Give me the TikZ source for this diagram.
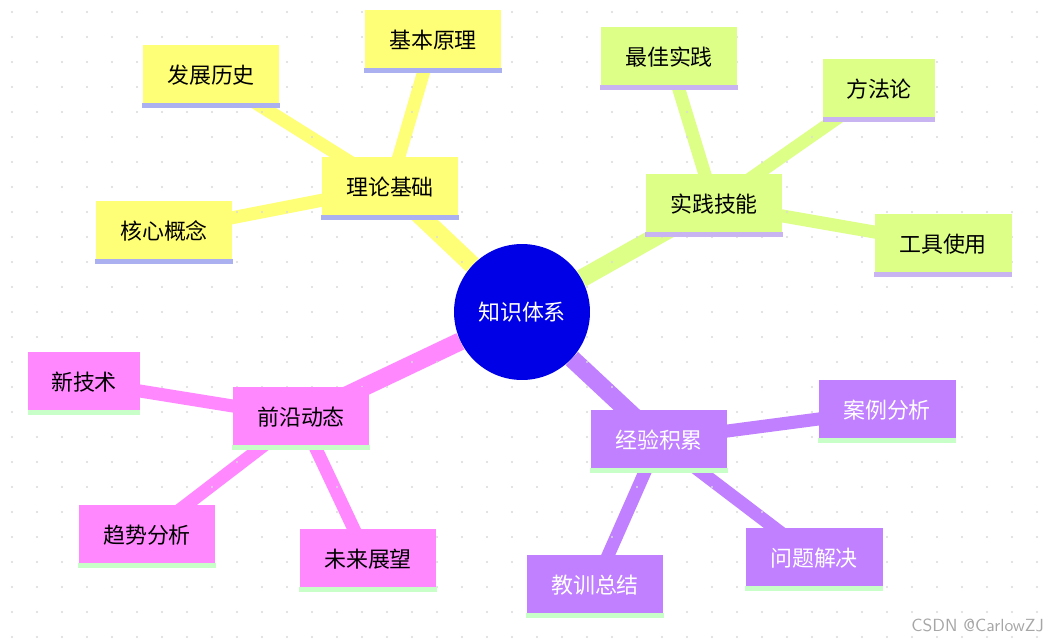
\documentclass[tikz,border=0pt]{standalone}
\usepackage{fontspec}
\newfontfamily\cjk{Noto Sans CJK SC}
\usetikzlibrary{backgrounds}
\definecolor{rootblue}{RGB}{0,0,230}
\definecolor{theoy}{RGB}{255,255,119}
\definecolor{pracg}{RGB}{221,255,136}
\definecolor{frontp}{RGB}{255,136,255}
\definecolor{expv}{RGB}{192,128,255}
\definecolor{lineblue}{RGB}{170,176,240}
\definecolor{linepurp}{RGB}{200,180,240}
\definecolor{linegreen}{RGB}{200,255,200}
\tikzset{
  box/.style={fill=#1, minimum width=2.74cm, minimum height=1.2cm, inner sep=2pt, font=\cjk\fontsize{12.5}{14}\selectfont},
  under/.style={append after command={\pgfextra{\let\thisbox\tikzlastnode}
      (\thisbox.south west) edge[line width=2.5pt,#1] (\thisbox.south east)}},
  trunk/.style={line width=0.36cm, #1},
  twig/.style={line width=0.26cm, #1},
}
\begin{document}
\begin{tikzpicture}[x=0.02cm,y=-0.02cm]
  \useasboundingbox (0,0) rectangle (1054,642);
  % dotted paper
  \foreach \gx in {12,37,...,1054}
    \foreach \gy in {12,37,...,642}
      \fill[black!15] (\gx,\gy) circle (0.6pt);

  \node[circle, fill=rootblue, minimum size=2.72cm, text=white, font=\cjk\fontsize{12.5}{14}\selectfont] (root) at (522,312) {知识体系};

  % theory
  \node[box=theoy, under=lineblue] (theory) at (390,187) {理论基础};
  \node[box=theoy, under=lineblue] (basic) at (433,40) {基本原理};
  \node[box=theoy, under=lineblue] (history) at (211,75) {发展历史};
  \node[box=theoy, under=lineblue] (core) at (164,231) {核心概念};
  % practice
  \node[box=pracg, under=linepurp] (practice) at (714,204) {实践技能};
  \node[box=pracg, under=linepurp] (best) at (669,57) {最佳实践};
  \node[box=pracg, under=linepurp, minimum width=2.24cm] (method) at (879,89) {方法论};
  \node[box=pracg, under=linepurp] (tools) at (943,244) {工具使用};
  % frontier
  \node[box=frontp, under=linegreen] (front) at (301,417) {前沿动态};
  \node[box=frontp, under=linegreen, minimum width=2.24cm] (newtech) at (84,382) {新技术};
  \node[box=frontp, under=linegreen] (trend) at (147,535) {趋势分析};
  \node[box=frontp, under=linegreen] (future) at (368,559) {未来展望};
  % experience
  \node[box=expv, under=linegreen, text=white] (exp) at (659,440) {经验积累};
  \node[box=expv, under=linegreen, text=white] (cases) at (887,410) {案例分析};
  \node[box=expv, under=linegreen, text=white] (solve) at (814,558) {问题解决};
  \node[box=expv, under=linegreen, text=white] (lesson) at (595,585) {教训总结};

  \node[text=black!35, font=\sffamily\fontsize{10}{12}\selectfont, anchor=east] (mark) at (1050,625) {CSDN @CarlowZJ};

  \begin{pgfonlayer}{background}
    \draw[trunk=theoy] (root) -- (theory.center);
    \draw[trunk=pracg] (root) -- (practice.center);
    \draw[trunk=frontp] (root) -- (front.center);
    \draw[trunk=expv] (root) -- (exp.center);
    \foreach \a/\b/\c in {theory/basic/theoy, theory/history/theoy, theory/core/theoy,
        practice/best/pracg, practice/method/pracg, practice/tools/pracg,
        front/newtech/frontp, front/trend/frontp, front/future/frontp,
        exp/cases/expv, exp/solve/expv, exp/lesson/expv}
      \draw[twig=\c] (\a.center) -- (\b.center);
  \end{pgfonlayer}
\end{tikzpicture}
\end{document}
